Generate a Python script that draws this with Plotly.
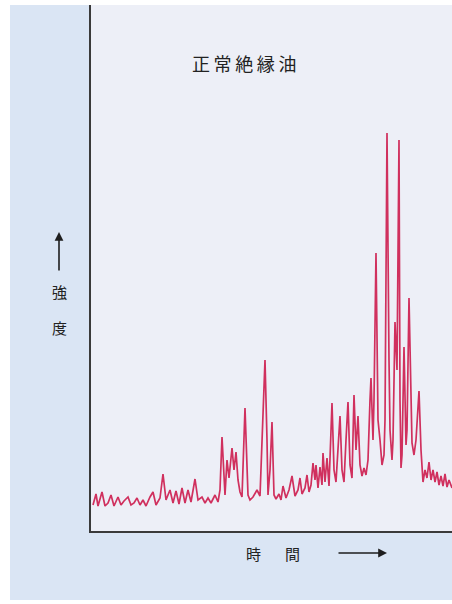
import plotly.graph_objects as go

# Retention time (arbitrary units) and detector intensity (arbitrary units)
time = [
    2, 5, 7, 11, 14, 17, 20, 23, 27, 30, 33, 37, 40, 43, 46, 49, 52, 55, 59, 62,
    65, 69, 72, 75, 79, 82, 85, 88, 91, 94, 97, 100, 104, 107, 111, 114, 117, 120, 124, 127,
    129, 131, 134, 136, 138, 141, 143, 145, 147, 149, 151, 154, 157, 159, 162, 166, 169, 172, 174, 176,
    177, 179, 181, 183, 185, 188, 190, 192, 195, 198, 201, 204, 207, 209, 211, 214, 216, 218, 220, 222,
    224, 225, 227, 229, 231, 232, 234, 236, 238, 241, 243, 245, 247, 249, 251, 253, 255, 257, 259, 261,
    263, 265, 267, 269, 271, 273, 275, 277, 279, 280, 282, 283, 285, 286, 287, 289, 291, 293, 294, 296,
    297, 298, 299, 301, 302, 304, 306, 308, 309, 310, 311, 313, 315, 316, 318, 320, 321, 323, 325, 328,
    330, 332, 334, 336, 338, 340, 342, 344, 346, 348, 350, 352, 354, 356, 358, 361,
]
intensity = [
    26, 37, 25, 39, 25, 28, 36, 25, 34, 26, 30, 34, 26, 28, 33, 26, 31, 25, 34, 39,
    26, 33, 57, 31, 41, 28, 40, 27, 43, 28, 41, 29, 52, 31, 34, 28, 33, 28, 36, 29,
    41, 94, 36, 71, 53, 83, 61, 79, 51, 39, 34, 123, 36, 31, 34, 41, 35, 113, 171, 91,
    36, 61, 109, 36, 32, 37, 31, 45, 33, 41, 55, 35, 41, 53, 37, 43, 56, 39, 46, 68,
    51, 66, 43, 64, 46, 78, 49, 73, 45, 128, 61, 49, 86, 115, 61, 49, 91, 129, 66, 53,
    136, 81, 115, 66, 55, 63, 56, 71, 131, 153, 91, 131, 278, 161, 111, 91, 66, 76, 111, 398,
    231, 171, 101, 71, 91, 209, 161, 391, 131, 63, 76, 184, 86, 101, 233, 111, 88, 76, 91, 140,
    81, 49, 61, 53, 69, 51, 61, 49, 59, 46, 55, 45, 57, 44, 51, 43,
]

title_text = "正\u2009常\u2009絶\u2009縁\u2009油"
y_label = ["強", "度"]
x_label = ["時", "間"]

fig = go.Figure()
fig.add_trace(go.Scatter(
    x=time, y=intensity, mode="lines",
    line=dict(color="#d0305e", width=1.7),
    hoverinfo="skip", showlegend=False,
))

W, H = 452, 604
L, R, T, B = 91, 0, 5, 73

def px_to_paper(px, py):
    return (px - L) / (W - L - R), (H - B - py) / (H - T - B)

FONT = "Noto Sans CJK JP"
annotations = []

def label(text, px, py, size):
    x, y = px_to_paper(px, py)
    return dict(x=x, y=y, xref="paper", yref="paper", text=text, showarrow=False,
                xanchor="center", yanchor="middle",
                font=dict(size=size, color="#222222", family=FONT))

annotations.append(label(title_text, 244, 63, 18))
for ch, py in zip(y_label, [291, 327]):
    annotations.append(label(ch, 59, py, 15))
for ch, px in zip(x_label, [253, 292]):
    annotations.append(label(ch, px, 553, 15))

# arrows
hx, hy = px_to_paper(59, 232)
annotations.append(dict(x=hx, y=hy, xref="paper", yref="paper", text="",
                        showarrow=True, ax=0, ay=40, arrowhead=2, arrowsize=1.1,
                        arrowwidth=1.6, arrowcolor="#1e1e1e"))
hx, hy = px_to_paper(387, 553)
annotations.append(dict(x=hx, y=hy, xref="paper", yref="paper", text="",
                        showarrow=True, ax=-50, ay=0, arrowhead=2, arrowsize=1.1,
                        arrowwidth=1.6, arrowcolor="#1e1e1e"))

# white scan borders
shapes = []
def rect(px0, py0, px1, py1, color):
    x0, y0 = px_to_paper(px0, py0)
    x1, y1 = px_to_paper(px1, py1)
    return dict(type="rect", xref="paper", yref="paper", x0=x0, y0=y0, x1=x1, y1=y1,
                fillcolor=color, line=dict(width=0), layer="below")
shapes.append(rect(0, 0, 452, 5, "#ffffff"))
shapes.append(rect(0, 0, 10, 604, "#ffffff"))
shapes.append(rect(0, 600, 452, 604, "#ffffff"))

fig.update_layout(
    width=W, height=H,
    margin=dict(l=L, r=R, t=T, b=B),
    paper_bgcolor="#dae5f4",
    plot_bgcolor="#edeff7",
    annotations=annotations,
    shapes=shapes,
    xaxis=dict(range=[0, 361], showgrid=False, zeroline=False, showticklabels=False,
               ticks="", showline=True, linecolor="#3a3a3a", linewidth=2, fixedrange=True),
    yaxis=dict(range=[0, 526], showgrid=False, zeroline=False, showticklabels=False,
               ticks="", showline=True, linecolor="#3a3a3a", linewidth=2, fixedrange=True),
)

fig.write_html(
    "out.html",
    config={"displayModeBar": False},
    post_script="document.body.style.margin='0';document.body.style.overflow='hidden';",
)
